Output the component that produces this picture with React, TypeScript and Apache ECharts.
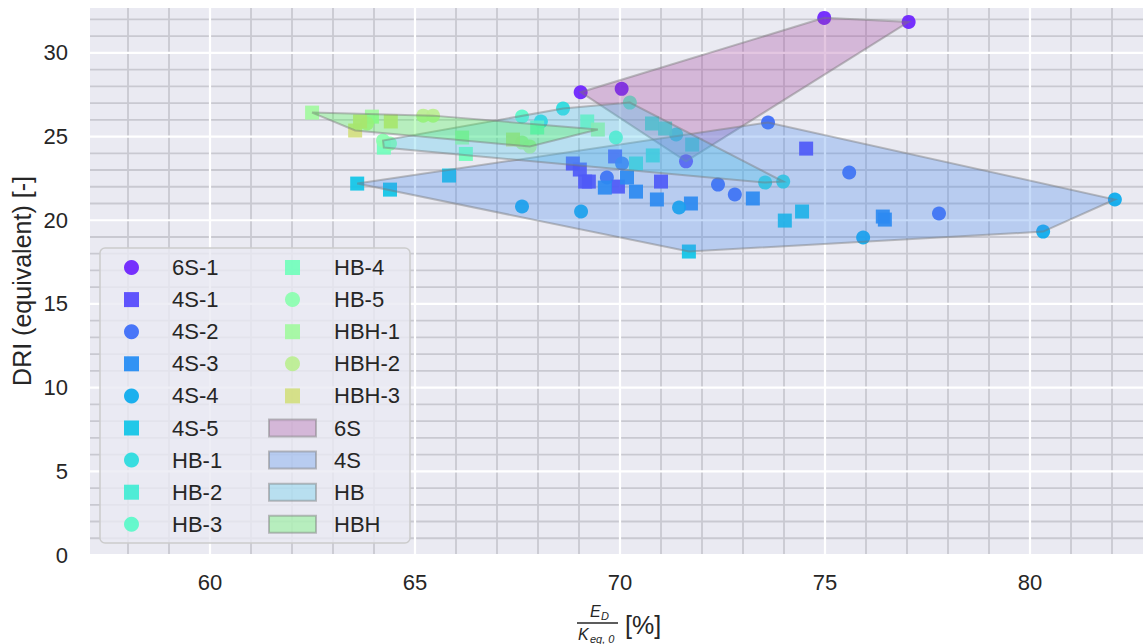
import React, { useEffect, useRef } from 'react';
import * as echarts from 'echarts';

const seriesNames = ['6S-1', '4S-1', '4S-2', '4S-3', '4S-4', '4S-5', 'HB-1', 'HB-2', 'HB-3', 'HB-4', 'HB-5', 'HBH-1', 'HBH-2', 'HBH-3'];
const seriesSymbols = ['circle', 'rect', 'circle', 'rect', 'circle', 'rect', 'circle', 'rect', 'circle', 'rect', 'circle', 'rect', 'circle', 'rect'];

const s6S_1 = [[69.04, 27.65], [70.04, 27.85], [71.61, 23.52], [74.98, 32.09], [77.04, 31.85]];
const s4S_1 = [[68.85, 23.39], [69.02, 23.03], [69.15, 22.31], [69.24, 22.31], [69.88, 23.81], [69.95, 22.01], [71.0, 22.31], [74.54, 24.28]];
const s4S_2 = [[73.61, 25.84], [75.59, 22.85], [72.39, 22.13], [72.8, 21.54], [77.78, 20.4], [70.05, 23.39], [69.68, 22.55]];
const s4S_3 = [[69.63, 21.95], [70.17, 22.55], [70.39, 21.71], [70.9, 21.24], [71.73, 21.0], [73.24, 21.3], [76.41, 20.22], [76.46, 20.04]];
const s4S_4 = [[67.61, 20.82], [69.05, 20.52], [71.44, 20.76], [75.93, 18.97], [80.32, 19.32], [82.07, 21.24]];
const s4S_5 = [[63.59, 22.19], [64.39, 21.83], [65.83, 22.67], [71.68, 18.13], [74.02, 19.98], [74.44, 20.52]];
const sHB_1 = [[68.07, 25.9], [68.61, 26.67], [73.54, 22.25], [73.98, 22.31], [71.37, 25.12]];
const sHB_2 = [[70.78, 25.78], [71.1, 25.48], [71.76, 24.52], [70.8, 23.87], [70.39, 23.39]];
const sHB_3 = [[67.61, 26.2], [69.9, 24.94], [70.24, 27.03]];
const sHB_4 = [[69.2, 25.9], [67.98, 25.54], [66.24, 23.96], [64.24, 24.34]];
const sHB_5 = [[64.22, 24.76], [64.39, 24.58]];
const sHBH_1 = [[62.49, 26.43], [63.95, 26.19], [66.15, 24.94], [69.46, 25.42]];
const sHBH_2 = [[65.2, 26.25], [65.44, 26.25], [63.83, 25.78], [67.61, 24.64], [67.8, 24.4]];
const sHBH_3 = [[63.54, 25.36], [63.66, 25.9], [64.41, 25.9], [67.39, 24.82]];

const seriesData = [s6S_1, s4S_1, s4S_2, s4S_3, s4S_4, s4S_5, sHB_1, sHB_2, sHB_3, sHB_4, sHB_5, sHBH_1, sHBH_2, sHBH_3];

const groupNames = ['6S', '4S', 'HB', 'HBH'];
const groupMembers = [[0], [1, 2, 3, 4, 5], [6, 7, 8, 9, 10], [11, 12, 13]];
const groupFills = ['rgba(161,67,155,0.3)', 'rgba(71,137,235,0.3)', 'rgba(71,200,235,0.3)', 'rgba(67,247,69,0.3)'];

const xTicks = [60, 65, 70, 75, 80];
const yTicks = [0, 5, 10, 15, 20, 25, 30];
const xMinor = [58, 59, 61, 62, 63, 64, 66, 67, 68, 69, 71, 72, 73, 74, 76, 77, 78, 79, 81, 82];
const yMinor = [1, 2, 3, 4, 6, 7, 8, 9, 11, 12, 13, 14, 16, 17, 18, 19, 21, 22, 23, 24, 26, 27, 28, 29, 31, 32];

const X_MIN = 57.073;
const X_MAX = 82.756;
const Y_MIN = 0;
const Y_MAX = 32.68;

const FONT = "'Liberation Sans', Arial, sans-serif";
const TXT = '#262626';

function rainbow(t: number): string {
  const r = Math.min(1, Math.abs(2 * t - 0.5));
  const g = Math.sin(Math.PI * t);
  const b = Math.cos((Math.PI * t) / 2);
  return `rgb(${Math.round(r * 255)},${Math.round(g * 255)},${Math.round(b * 255)})`;
}

function convexHull(points: number[][]): number[][] {
  const p = points.slice().sort((a, b) => a[0] - b[0] || a[1] - b[1]);
  const cross = (o: number[], a: number[], b: number[]) => (a[0] - o[0]) * (b[1] - o[1]) - (a[1] - o[1]) * (b[0] - o[0]);
  const lower: number[][] = [];
  for (const q of p) {
    while (lower.length >= 2 && cross(lower[lower.length - 2], lower[lower.length - 1], q) <= 0) lower.pop();
    lower.push(q);
  }
  const upper: number[][] = [];
  for (let i = p.length - 1; i >= 0; i--) {
    const q = p[i];
    while (upper.length >= 2 && cross(upper[upper.length - 2], upper[upper.length - 1], q) <= 0) upper.pop();
    upper.push(q);
  }
  upper.pop();
  lower.pop();
  return lower.concat(upper);
}

export default function App() {
  const ref = useRef<HTMLDivElement>(null);
  useEffect(() => {
    document.body.style.margin = '0';
    document.body.style.overflow = 'hidden';
    const chart = echarts.init(ref.current as HTMLDivElement, null, { renderer: 'svg' });
    const colors = seriesNames.map((_, i) => rainbow(0.04 + i * 0.048));

    const gridLine = (data: number[], vertical: boolean, stroke: string, width: number, z: number) => ({
      type: 'custom',
      silent: true,
      z,
      data: data.map((v) => (vertical ? [v, Y_MIN] : [X_MIN, v])),
      renderItem: (params: any, api: any) => {
        const v = vertical ? api.value(0) : api.value(1);
        const p1 = vertical ? api.coord([v, Y_MIN]) : api.coord([X_MIN, v]);
        const p2 = vertical ? api.coord([v, Y_MAX]) : api.coord([X_MAX, v]);
        return {
          type: 'line',
          shape: { x1: p1[0], y1: p1[1], x2: p2[0], y2: p2[1] },
          style: { stroke, lineWidth: width },
        };
      },
    });

    const scatterSeries = seriesNames.map((name, i) => ({
      type: 'scatter',
      name,
      z: 3,
      symbol: seriesSymbols[i],
      symbolSize: 14,
      data: seriesData[i],
      itemStyle: { color: colors[i], opacity: 0.92 },
    }));

    const polySeries = groupNames.map((g, gi) => {
      const pts: number[][] = [];
      groupMembers[gi].forEach((si) => seriesData[si].forEach((p) => pts.push(p)));
      const hull = convexHull(pts);
      return {
        type: 'custom',
        name: g,
        silent: true,
        z: 4,
        data: [hull[0]],
        renderItem: (params: any, api: any) => ({
          type: 'polygon',
          shape: { points: hull.map((p) => api.coord(p)) },
          style: { fill: groupFills[gi], stroke: 'rgba(120,120,120,0.45)', lineWidth: 2 },
        }),
      };
    });

    const legendEls: any[] = [];
    legendEls.push({
      type: 'rect', z: 100,
      shape: { x: 100, y: 248, width: 310, height: 295, r: 5 },
      style: { fill: 'rgba(234,234,242,0.8)', stroke: '#cccccc', lineWidth: 1.5 },
    });
    const rowY = (r: number) => 267.5 + r * 32.1;
    const items: { kind: string; idx: number }[] = [];
    seriesNames.forEach((_, i) => items.push({ kind: 's', idx: i }));
    groupNames.forEach((_, i) => items.push({ kind: 'g', idx: i }));
    items.forEach((it, k) => {
      const col = k < 9 ? 0 : 1;
      const row = k < 9 ? k : k - 9;
      const cx = col === 0 ? 131.5 : 292.5;
      const tx = col === 0 ? 172 : 334;
      const cy = rowY(row);
      let label = '';
      if (it.kind === 's') {
        label = seriesNames[it.idx];
        if (seriesSymbols[it.idx] === 'circle') {
          legendEls.push({ type: 'circle', z: 101, shape: { cx, cy, r: 7.5 }, style: { fill: colors[it.idx], opacity: 0.92 } });
        } else {
          legendEls.push({ type: 'rect', z: 101, shape: { x: cx - 7.5, y: cy - 7.5, width: 15, height: 15 }, style: { fill: colors[it.idx], opacity: 0.92 } });
        }
      } else {
        label = groupNames[it.idx];
        legendEls.push({
          type: 'rect', z: 101,
          shape: { x: cx - 23.5, y: cy - 8.5, width: 47, height: 17 },
          style: { fill: groupFills[it.idx], stroke: 'rgba(120,120,120,0.45)', lineWidth: 2 },
        });
      }
      legendEls.push({
        type: 'text', z: 101, x: tx, y: cy,
        style: { text: label, fontSize: 22, fontFamily: FONT, fill: TXT, align: 'left', verticalAlign: 'middle' },
      });
    });

    const axisTitleEls: any[] = [
      {
        type: 'text', z: 101, x: 22, y: 281, rotation: Math.PI / 2,
        style: { text: 'DRI (equivalent) [-]', fontSize: 25, fontFamily: FONT, fill: TXT, align: 'center', verticalAlign: 'middle' },
      },
      { type: 'text', z: 101, x: 590, y: 611, style: { text: 'E', fontSize: 16, fontStyle: 'italic', fontFamily: FONT, fill: TXT, align: 'left', verticalAlign: 'middle' } },
      { type: 'text', z: 101, x: 601, y: 616, style: { text: 'D', fontSize: 11, fontStyle: 'italic', fontFamily: FONT, fill: TXT, align: 'left', verticalAlign: 'middle' } },
      { type: 'line', z: 101, shape: { x1: 577, y1: 623, x2: 618, y2: 623 }, style: { stroke: TXT, lineWidth: 1.3 } },
      { type: 'text', z: 101, x: 578, y: 634, style: { text: 'K', fontSize: 16, fontStyle: 'italic', fontFamily: FONT, fill: TXT, align: 'left', verticalAlign: 'middle' } },
      { type: 'text', z: 101, x: 590, y: 639, style: { text: 'eq, 0', fontSize: 11, fontStyle: 'italic', fontFamily: FONT, fill: TXT, align: 'left', verticalAlign: 'middle' } },
      { type: 'text', z: 101, x: 625, y: 625, style: { text: '[%]', fontSize: 25, fontFamily: FONT, fill: TXT, align: 'left', verticalAlign: 'middle' } },
    ];

    chart.setOption({
      animation: false,
      backgroundColor: '#ffffff',
      grid: { left: 90, right: 0, top: 8, bottom: 89, show: true, backgroundColor: '#EAEAF2', borderWidth: 0 },
      xAxis: {
        type: 'value', min: X_MIN, max: X_MAX,
        axisLine: { show: false }, axisTick: { show: false }, splitLine: { show: false },
        axisLabel: {
          customValues: xTicks,
          formatter: (v: number) => (Math.abs(v % 5) < 1e-6 ? String(v) : ''),
          fontSize: 22, fontFamily: FONT, color: TXT, margin: 16,
        },
      },
      yAxis: {
        type: 'value', min: Y_MIN, max: Y_MAX, interval: 5,
        axisLine: { show: false }, axisTick: { show: false }, splitLine: { show: false },
        axisLabel: {
          customValues: yTicks,
          formatter: (v: number) => (Math.abs(v % 5) < 1e-6 ? String(v) : ''),
          fontSize: 22, fontFamily: FONT, color: TXT, margin: 22,
        },
      },
      graphic: { elements: [...legendEls, ...axisTitleEls] },
      series: [
        gridLine(xMinor, true, '#C9C9D1', 1.8, 1),
        gridLine(yMinor, false, '#C9C9D1', 1.8, 1),
        gridLine(xTicks, true, '#ffffff', 2.2, 2),
        gridLine(yTicks, false, '#ffffff', 2.2, 2),
        ...scatterSeries,
        ...polySeries,
      ],
    });
    return () => chart.dispose();
  }, []);
  return <div ref={ref} style={{ width: 1143, height: 644 }} />;
}
